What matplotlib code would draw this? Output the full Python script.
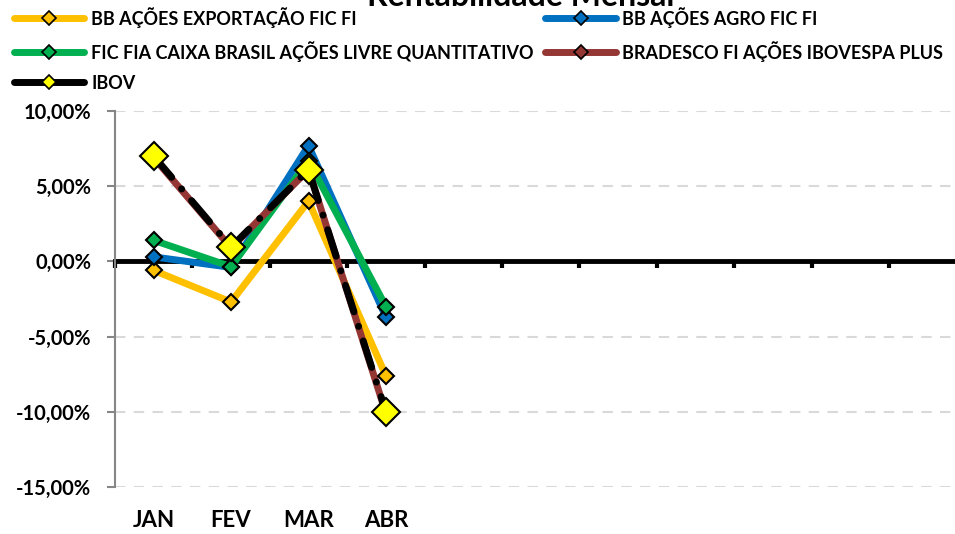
import numpy as np
import matplotlib
matplotlib.use("Agg")
import matplotlib.pyplot as plt
from matplotlib.lines import Line2D

plt.rcParams['font.family'] = ['Lato', 'DejaVu Sans']
plt.rcParams['font.weight'] = 'bold'

# data (monthly returns, %)
months = ['JAN', 'FEV', 'MAR', 'ABR']
bb_exportacao = [-0.6, -2.7, 4.0, -7.6]
bb_agro = [0.3, -0.4, 7.7, -3.7]
caixa_livre = [1.4, -0.35, 6.7, -3.0]
bradesco_ibov = [6.9, 0.9, 6.1, -10.1]
ibov = [7.0, 0.95, 6.1, -10.0]

names = ['BB AÇÕES EXPORTAÇÃO FIC FI', 'BB AÇÕES AGRO FIC FI',
         'FIC FIA CAIXA BRASIL AÇÕES LIVRE QUANTITATIVO',
         'BRADESCO FI AÇÕES IBOVESPA PLUS', 'IBOV']
colors = ['#ffc000', '#0070c0', '#00b050', '#943634', '#000000']

fig = plt.figure(figsize=(9.55, 5.34), dpi=100)
ax = fig.add_axes([115 / 955, 47 / 534, 840 / 955, 376 / 534])

x = np.arange(len(months))
series = [bb_exportacao, bb_agro, caixa_livre, bradesco_ibov]
for i, vals in enumerate(series):
    ax.plot(x, vals, color=colors[i], lw=5, solid_capstyle='round',
            solid_joinstyle='round', zorder=3 + i)
for i, vals in enumerate(series):
    ax.plot(x, vals, ls='none', marker='D', ms=8, mfc=colors[i],
            mec='black', mew=1.5, zorder=8)

# IBOV: black dash-dot over the brown line
ax.plot(x, ibov, color='black', lw=5, ls=(0, (4, 2.2, 0.01, 2.2)),
        dash_capstyle='round', zorder=9)
ax.plot(x, ibov, ls='none', marker='D', ms=14, mfc='#ffff00', mec='black',
        mew=1.5, zorder=10)

ax.set_xlim(-0.5, -0.5 + 840 / 77.4)
ax.set_ylim(-15, 10)
ax.set_yticks([10, 5, 0, -5, -10, -15])
ax.set_yticklabels(['10,00%', '5,00%', '0,00%', '-5,00%', '-10,00%', '-15,00%'],
                   fontsize=14.5, fontweight='bold')
ax.yaxis.grid(True, color='#d9d9d9', ls=(0, (5, 4)), lw=1.5)
ax.set_axisbelow(True)

ax.spines['top'].set_visible(False)
ax.spines['right'].set_visible(False)
ax.spines['left'].set_color('#868686')
ax.spines['left'].set_linewidth(1.5)
ax.spines['bottom'].set_position(('data', 0))
ax.spines['bottom'].set_linewidth(3.5)
ax.spines['bottom'].set_zorder(2)
ax.tick_params(axis='y', length=6, width=1.5, color='#868686', pad=11)

ax.set_xticks(np.arange(-0.5, 10.0, 1.0))
ax.set_xticklabels([])
ax.tick_params(axis='x', length=5, width=3, color='black', direction='out')

for i, m in enumerate(months):
    ax.annotate(m, xy=(i, -0.09), xycoords=('data', 'axes fraction'),
                ha='center', va='center', fontsize=16, fontweight='bold')

fig.text(521 / 955, 1 - 6 / 534, 'Rentabilidade Mensal', ha='center',
         va='baseline', fontsize=23, fontweight='bold')

handles = []
for c, mc in zip(colors, ['#ffc000', '#0070c0', '#00b050', '#943634', '#ffff00']):
    handles.append(Line2D([0], [0], color=c, lw=5, solid_capstyle='round',
                          marker='D', ms=7, mfc=mc, mec='black', mew=1.2))
order = [0, 2, 4, 1, 3]
leg = fig.legend([handles[k] for k in order], [names[k] for k in order],
                 ncol=2, loc='upper left', bbox_to_anchor=(14 / 955, 1 - 7 / 534),
                 frameon=False, borderpad=0, borderaxespad=0,
                 handlelength=3.9, handletextpad=0.37, columnspacing=0.65,
                 labelspacing=0.72, prop={'size': 13, 'weight': 'bold'})

fig.savefig('out.png', dpi=100)
